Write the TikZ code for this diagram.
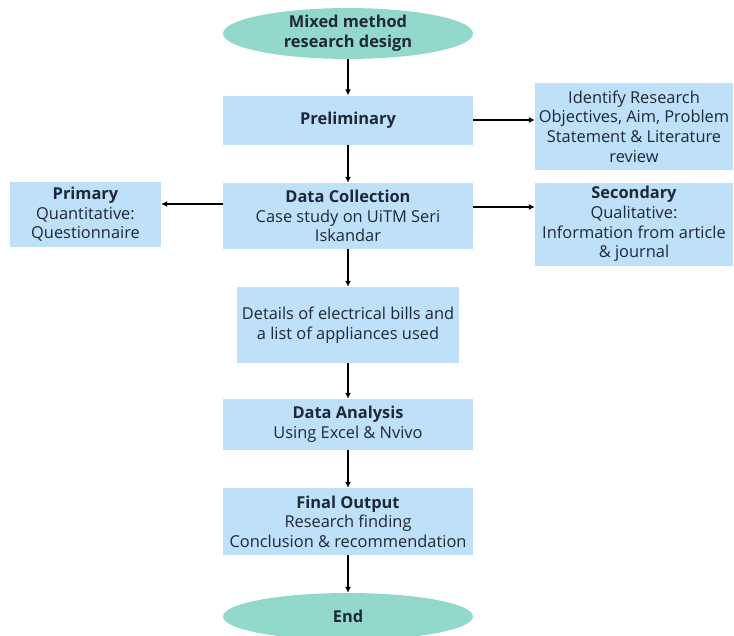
\documentclass[tikz,border=0pt]{standalone}
\usepackage{fontspec}
\setmainfont{Open Sans}
\usetikzlibrary{arrows.meta,shapes.geometric}
\definecolor{boxblue}{RGB}{190,224,248}
\definecolor{endteal}{RGB}{146,217,203}
\definecolor{txtdark}{RGB}{30,40,56}

\begin{document}
\begin{tikzpicture}[x=1pt,y=-1pt,
  stepbox/.style={rectangle,fill=boxblue,align=center,text=txtdark,
    font=\fontsize{16.4}{19.6}\selectfont,inner sep=0pt},
  terminal/.style={ellipse,fill=endteal,align=center,text=txtdark,
    font=\fontsize{16.4}{19.6}\selectfont\bfseries,inner sep=0pt,
    minimum width=250pt,minimum height=47pt},
  arr/.style={-{Latex[length=6pt,width=6pt]},line width=1.3pt,black}]
  \useasboundingbox (0,0) rectangle (734,635);
  % main column
  \node[terminal] (start) at (348,33.5) {Mixed method\\research design};
  \node[stepbox,minimum width=250pt,minimum height=49pt] (prelim) at (348,120)
    {\textbf{Preliminary}};
  \node[stepbox,minimum width=250pt,minimum height=66pt] (collect) at (348,216)
    {\textbf{Data Collection}\\Case study on UiTM Seri\\Iskandar};
  \node[stepbox,minimum width=222pt,minimum height=76pt] (details) at (348,325)
    {Details of electrical bills and\\a list of appliances used};
  \node[stepbox,minimum width=250pt,minimum height=51pt] (analysis) at (348,424.5)
    {\textbf{Data Analysis}\\Using Excel \& Nvivo};
  \node[stepbox,minimum width=250pt,minimum height=67pt] (final) at (348,521.5)
    {\textbf{Final Output}\\Research finding\\Conclusion \& recommendation};
  \node[terminal] (end) at (348,616.5) {End};
  % side boxes
  \node[stepbox,minimum width=151pt,minimum height=65pt] (primary) at (85.5,214.5)
    {\textbf{Primary}\\Quantitative:\\Questionnaire};
  \node[stepbox,minimum width=198pt,minimum height=87pt] (identify) at (634,126.5)
    {Identify Research\\Objectives, Aim, Problem\\Statement \& Literature\\review};
  \node[stepbox,minimum width=198pt,minimum height=83pt] (secondary) at (634,224)
    {\textbf{Secondary}\\Qualitative:\\Information from article\\\& journal};
  % connectors
  \draw[arr] (start) -- (prelim);
  \draw[arr] (prelim) -- (collect);
  \draw[arr] (collect) -- (details);
  \draw[arr] (details) -- (analysis);
  \draw[arr] (analysis) -- (final);
  \draw[arr] (final) -- (end);
  \draw[arr] (prelim.east) -- (prelim.east -| identify.west);
  \draw[arr] ([yshift=12pt]collect.west) -- ([yshift=12pt]collect.west -| primary.east);
  \draw[arr] ([yshift=9pt]collect.east) -- ([yshift=9pt]collect.east -| secondary.west);
\end{tikzpicture}
\end{document}
